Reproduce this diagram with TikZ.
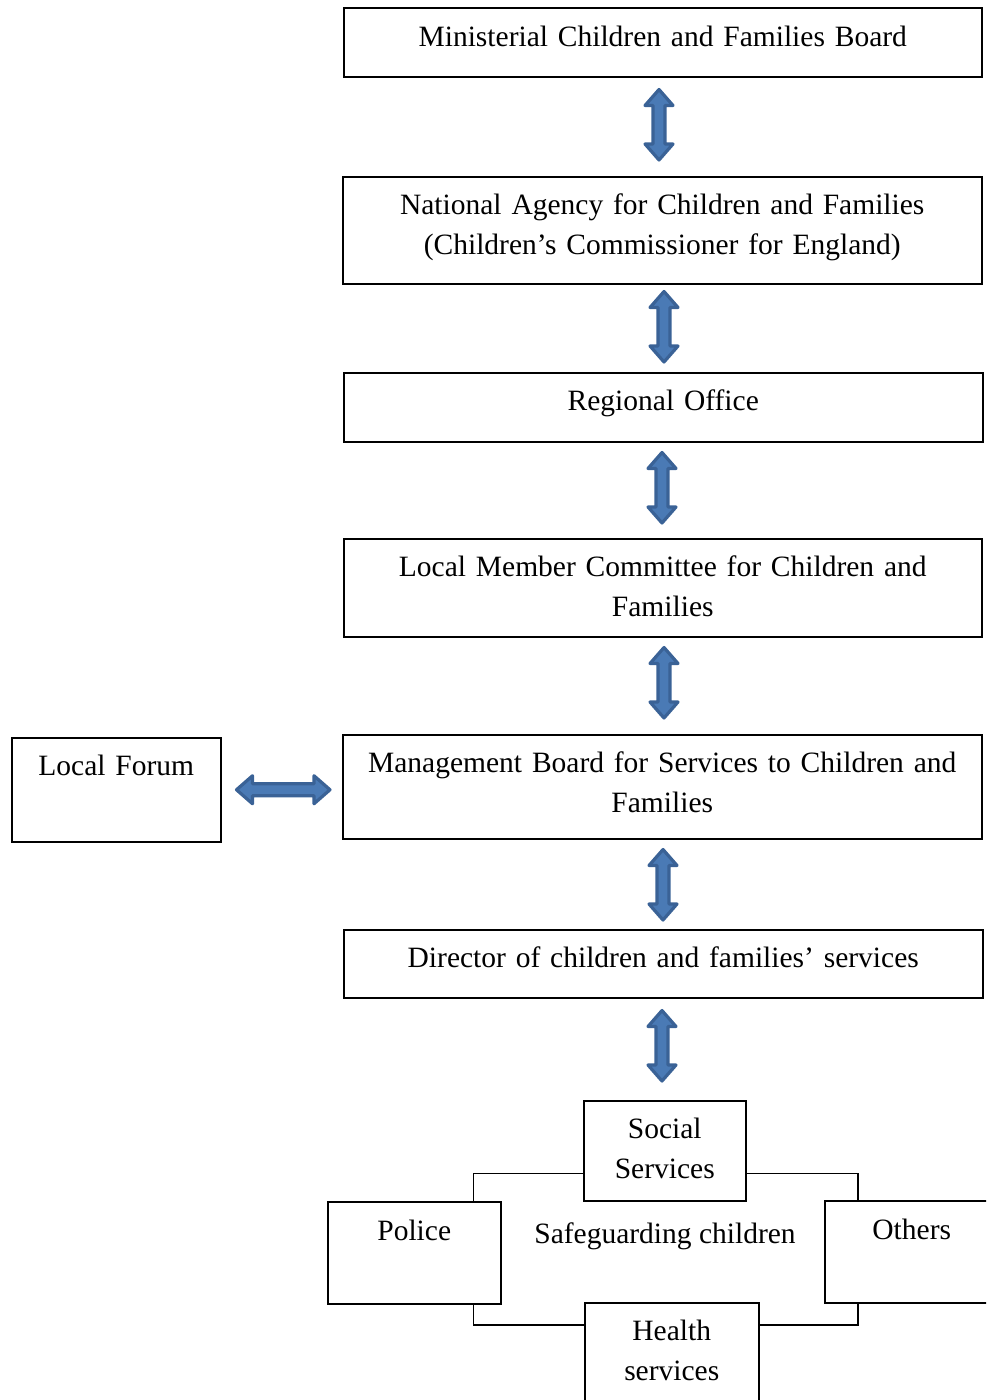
\documentclass[tikz,border=0pt]{standalone}
\usepackage{fontspec}
\setmainfont{Liberation Serif}
\usetikzlibrary{calc}
\definecolor{arrowfill}{HTML}{4A7AB5}
\definecolor{arrowdraw}{HTML}{3A6296}
\tikzset{
  box/.style={draw, line width=1.5pt, inner sep=0pt, align=center,
    font=\fontsize{29.5}{40}\selectfont, anchor=north west},
  plain/.style={inner sep=0pt, font=\fontsize{29.5}{40}\selectfont},
  blockarrow/.style={fill=arrowfill, draw=arrowdraw, line width=3.2pt, line join=round},
  link/.style={draw, line width=1.5pt}
}
% vertical double block arrow: x, upper node, lower node, top gap, bottom gap
\newcommand\vconn[5]{%
 \filldraw[blockarrow] let \p1=(#2.south), \p2=(#3.north) in
 (#1pt,\y1-#4pt) -- (#1pt+14pt,\y1-#4pt-16pt) -- (#1pt+6pt,\y1-#4pt-16pt)
 -- (#1pt+6pt,\y2+#5pt+16pt) -- (#1pt+14pt,\y2+#5pt+16pt) -- (#1pt,\y2+#5pt)
 -- (#1pt-14pt,\y2+#5pt+16pt) -- (#1pt-6pt,\y2+#5pt+16pt)
 -- (#1pt-6pt,\y1-#4pt-16pt) -- (#1pt-14pt,\y1-#4pt-16pt) -- cycle;}
\begin{document}
\begin{tikzpicture}[x=1pt,y=-1pt]
\useasboundingbox (0,0) rectangle (986,1400);
\clip (0,0) rectangle (986,1400);

\node[box, text width=638pt, text height=39pt, text depth=30pt] (mcfb) at (343,7)
  {Ministerial Children and Families Board};
\node[box, text width=639pt, text height=38pt, text depth=69pt] (nacf) at (342,176)
  {National Agency for Children and Families\\(Children’s Commissioner for England)};
\node[box, text width=639pt, text height=38pt, text depth=31pt] (ro) at (343,372)
  {Regional Office};
\node[box, text width=638pt, text height=38pt, text depth=60pt] (lmc) at (343,538)
  {Local Member Committee for Children and\\Families};
\node[box, text width=639pt, text height=38pt, text depth=66pt] (mb) at (342,734)
  {Management Board for Services to Children and\\Families};
\node[box, text width=639pt, text height=38pt, text depth=30pt] (dir) at (343,929)
  {Director of children and families’ services};
\node[box, text width=209pt, text height=38pt, text depth=66pt] (lf) at (11,737)
  {Local Forum};

\node[box, text width=162pt, text height=38pt, text depth=62pt] (ss) at (583,1100)
  {Social\\Services};
\node[box, text width=173pt, text height=39pt, text depth=63pt] (pol) at (327,1201)
  {Police};
\node[box, text width=174pt, text height=39pt, text depth=63pt] (oth) at (824,1200)
  {Others};
\node[box, text width=174pt, text height=38pt, text depth=80pt] (hs) at (584,1302)
  {Health\\services};
\node[plain] (sg) at (665,1236) {Safeguarding children};

\vconn{659}{mcfb}{nacf}{12}{16}
\vconn{664}{nacf}{ro}{7}{10}
\vconn{662}{ro}{lmc}{10}{15}
\vconn{664}{lmc}{mb}{10}{16}
\vconn{663}{mb}{dir}{10}{9}
\vconn{662}{dir}{ss}{12}{19}

\filldraw[blockarrow] let \p1=(lf.east), \p2=(mb.west) in
 (\x1+15pt,\y1) -- (\x1+31pt,\y1+14pt) -- (\x1+31pt,\y1+6pt)
 -- (\x2-28pt,\y1+6pt) -- (\x2-28pt,\y1+14pt) -- (\x2-12pt,\y1)
 -- (\x2-28pt,\y1-14pt) -- (\x2-28pt,\y1-6pt) -- (\x1+31pt,\y1-6pt)
 -- (\x1+31pt,\y1-14pt) -- cycle;

\draw[link] ($(ss.south west)+(0pt,28pt)$) -| ($(pol.north east)+(-28pt,0pt)$);
\draw[link] ($(pol.south east)+(-28pt,0pt)$) |- ($(hs.north west)+(0pt,-23pt)$);
\draw[link] ($(ss.south east)+(0pt,28pt)$) -| ($(oth.north west)+(34pt,0pt)$);
\draw[link] ($(oth.south west)+(34pt,0pt)$) |- ($(hs.north east)+(0pt,-23pt)$);
\end{tikzpicture}
\end{document}
